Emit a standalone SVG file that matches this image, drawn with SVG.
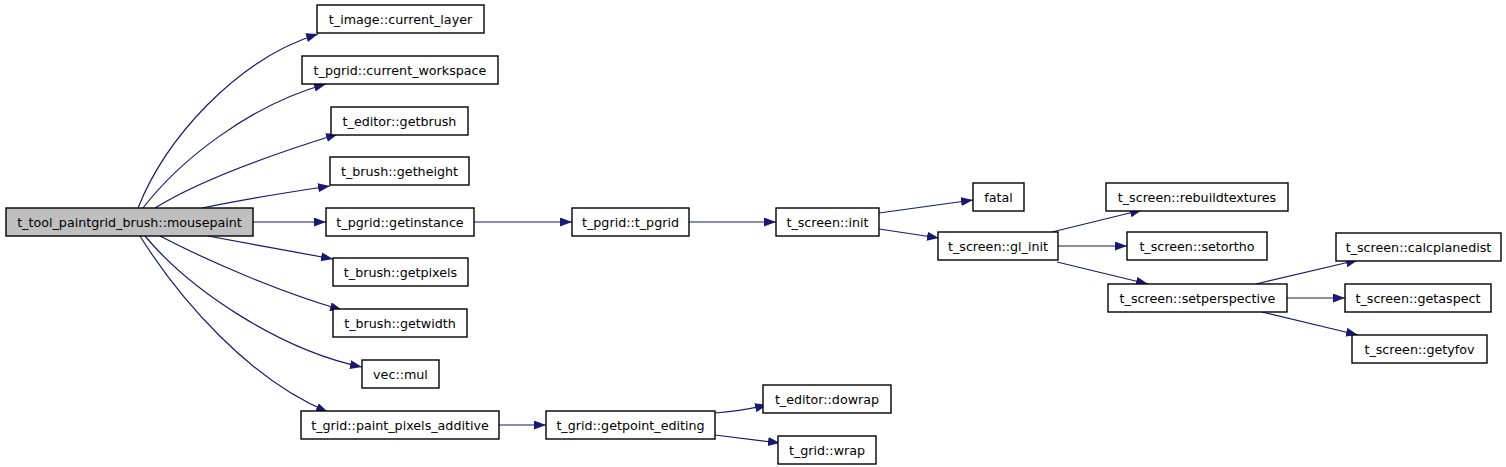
<svg xmlns="http://www.w3.org/2000/svg" width="1506" height="467" viewBox="0 0 1506 467">
<style>
.n rect{fill:#fff;stroke:#000;stroke-width:1.4}
.n.root rect{fill:#bfbfbf}
.n text{font-family:"DejaVu Sans",sans-serif;font-size:12.7px;text-anchor:middle;fill:#000}
.e path{fill:none;stroke:#191970;stroke-width:1.2;marker-end:url(#ah)}
</style>
<defs>
<marker id="ah" markerUnits="userSpaceOnUse" markerWidth="13" markerHeight="10" refX="12" refY="4.5" orient="auto">
<path d="M0,0 L12,4.5 L0,9 z" fill="#191970"/>
</marker>
</defs>
<rect width="1506" height="467" fill="#fff"/>
<g id="edges" class="e">
<path d="M138,208 C165,140 235,60 318,34"/>
<path d="M143,208 C180,160 250,105 326,84"/>
<path d="M155,208 C200,180 270,155 338,134"/>
<path d="M202,208 C240,200 290,192 330,186"/>
<path d="M253,222 L326,222"/>
<path d="M208,236 C250,244 290,251 333,259"/>
<path d="M160,236 C210,262 280,292 342,310"/>
<path d="M145,236 C190,290 280,350 362,367"/>
<path d="M140,236 C180,300 250,380 328,412"/>
<path d="M474,222 L572,222"/>
<path d="M689,222 L776,222"/>
<path d="M879,213 L973,200"/>
<path d="M879,229 L939,238"/>
<path d="M1052,232 L1142,210"/>
<path d="M1058,246 L1127,246"/>
<path d="M1057,262 L1148,284"/>
<path d="M1256,284 L1358,260"/>
<path d="M1287,298 L1345,298"/>
<path d="M1262,312 L1358,335"/>
<path d="M499,425 L546,425"/>
<path d="M715,413 C732,412 750,409 767,405"/>
<path d="M715,435 L780,443"/>
</g>
<g id="n_root" class="n root"><rect x="6" y="208" width="247" height="28"/><text x="129.5" y="227">t_tool_paintgrid_brush::mousepaint</text></g>
<g id="n_current_layer" class="n"><rect x="317" y="5" width="167" height="28"/><text x="400.5" y="24">t_image::current_layer</text></g>
<g id="n_current_workspace" class="n"><rect x="302" y="56" width="196" height="28"/><text x="400" y="75">t_pgrid::current_workspace</text></g>
<g id="n_getbrush" class="n"><rect x="331" y="107" width="137" height="28"/><text x="399.5" y="126">t_editor::getbrush</text></g>
<g id="n_getheight" class="n"><rect x="330" y="157" width="139" height="28"/><text x="399.5" y="176">t_brush::getheight</text></g>
<g id="n_getinstance" class="n"><rect x="326" y="208" width="148" height="28"/><text x="400" y="227">t_pgrid::getinstance</text></g>
<g id="n_getpixels" class="n"><rect x="333" y="258" width="135" height="28"/><text x="400.5" y="277">t_brush::getpixels</text></g>
<g id="n_getwidth" class="n"><rect x="333" y="309" width="134" height="28"/><text x="400" y="328">t_brush::getwidth</text></g>
<g id="n_vecmul" class="n"><rect x="362" y="360" width="77" height="28"/><text x="400.5" y="379">vec::mul</text></g>
<g id="n_paint_pixels_additive" class="n"><rect x="301" y="411" width="198" height="28"/><text x="400" y="430">t_grid::paint_pixels_additive</text></g>
<g id="n_t_pgrid" class="n"><rect x="572" y="208" width="117" height="28"/><text x="630.5" y="227">t_pgrid::t_pgrid</text></g>
<g id="n_init" class="n"><rect x="776" y="208" width="103" height="28"/><text x="827.5" y="227">t_screen::init</text></g>
<g id="n_fatal" class="n"><rect x="973" y="183" width="51" height="28"/><text x="998.5" y="202">fatal</text></g>
<g id="n_gl_init" class="n"><rect x="938" y="232" width="120" height="28"/><text x="998" y="251">t_screen::gl_init</text></g>
<g id="n_rebuildtextures" class="n"><rect x="1106" y="183" width="182" height="28"/><text x="1197" y="202">t_screen::rebuildtextures</text></g>
<g id="n_setortho" class="n"><rect x="1127" y="232" width="140" height="28"/><text x="1197" y="251">t_screen::setortho</text></g>
<g id="n_setperspective" class="n"><rect x="1108" y="284" width="179" height="28"/><text x="1197.5" y="303">t_screen::setperspective</text></g>
<g id="n_calcplanedist" class="n"><rect x="1336" y="233" width="165" height="28"/><text x="1418.5" y="252">t_screen::calcplanedist</text></g>
<g id="n_getaspect" class="n"><rect x="1345" y="284" width="146" height="28"/><text x="1418" y="303">t_screen::getaspect</text></g>
<g id="n_getyfov" class="n"><rect x="1352" y="335" width="135" height="28"/><text x="1419.5" y="354">t_screen::getyfov</text></g>
<g id="n_getpoint_editing" class="n"><rect x="546" y="411" width="169" height="28"/><text x="630.5" y="430">t_grid::getpoint_editing</text></g>
<g id="n_dowrap" class="n"><rect x="763" y="385" width="128" height="28"/><text x="827" y="404">t_editor::dowrap</text></g>
<g id="n_wrap" class="n"><rect x="778" y="436" width="98" height="28"/><text x="827" y="455">t_grid::wrap</text></g>
</svg>
